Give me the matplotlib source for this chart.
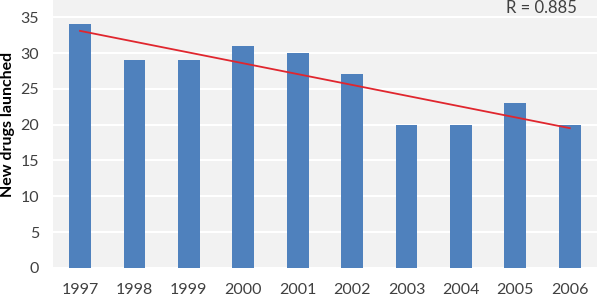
import matplotlib
matplotlib.use("Agg")
import matplotlib.pyplot as plt
import numpy as np

years = ["1997", "1998", "1999", "2000", "2001", "2002", "2003", "2004", "2005", "2006"]
new_drugs = [34, 29, 29, 31, 30, 27, 20, 20, 23, 20]
r_label = "R = 0.885"
y_ticks = [0, 5, 10, 15, 20, 25, 30, 35]

plt.rcParams['font.family'] = ['Lato', 'DejaVu Sans']
txt = '#404040'

fig = plt.figure(figsize=(6, 3), dpi=100)
ax = fig.add_axes([0.088, 0.107, 0.907, 0.893])
ax.set_facecolor('#f2f2f2')

x = np.arange(len(years))
ax.bar(x, new_drugs, width=0.4, color='#4f81bd', zorder=3)

slope, intercept = np.polyfit(x, new_drugs, 1)
ax.plot([x[0], x[-1]], [intercept + slope * x[0], intercept + slope * x[-1]],
        color='#e0262e', lw=1.3, zorder=4)

ax.set_xlim(-0.5, len(years) - 0.5)
ax.set_ylim(0, 37.4)
ax.set_yticks(y_ticks)
ax.set_xticks(x)
ax.set_xticklabels(years)
ax.yaxis.grid(True, color='white', lw=1.5, zorder=1)
ax.set_axisbelow(True)
for s in ax.spines.values():
    s.set_visible(False)
ax.tick_params(axis='both', length=0, labelsize=11.5, colors=txt)
ax.tick_params(axis='y', pad=10)
ax.tick_params(axis='x', pad=11)
fig.text(8 / 600, 1 - 124 / 300, "New drugs launched", rotation=90, fontsize=11.5,
         fontweight='bold', color='black', ha='center', va='center')
ax.text(0.833, 0.97, r_label, transform=ax.transAxes, fontsize=12, color=txt,
        ha='left', va='center')

fig.savefig("out.png", dpi=100)
